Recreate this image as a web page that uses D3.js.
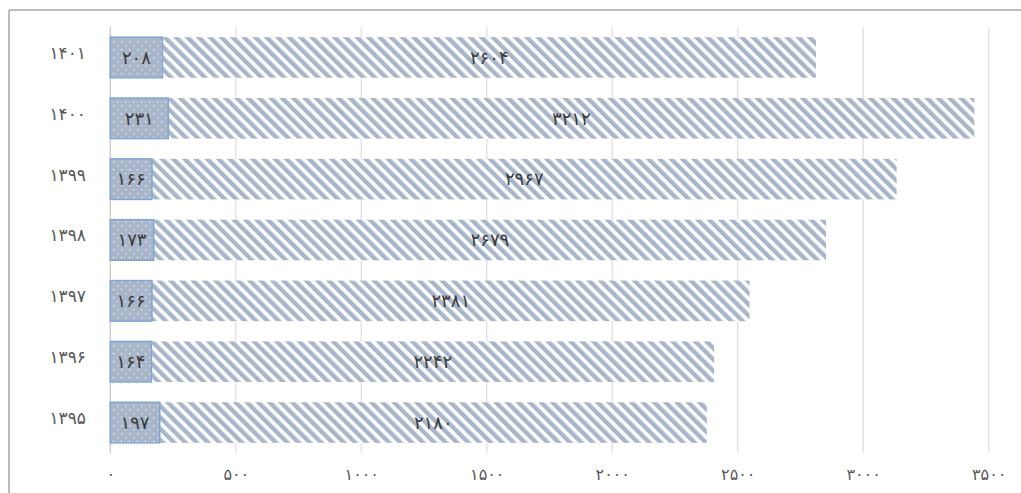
<!DOCTYPE html>
<html><head><meta charset="utf-8">
<script src="https://cdn.jsdelivr.net/npm/d3@7/dist/d3.min.js"></script>
<style>html,body{margin:0;padding:0;background:#fff;}svg{display:block;}</style>
</head><body>
<svg id="c" width="1021" height="493"></svg>
<script>
const categories = ['۱۴۰۱','۱۴۰۰','۱۳۹۹','۱۳۹۸','۱۳۹۷','۱۳۹۶','۱۳۹۵'];
const seriesA = [208, 231, 166, 173, 166, 164, 197];
const seriesB = [2604, 3212, 2967, 2679, 2381, 2242, 2180];
const tickValues = [0, 500, 1000, 1500, 2000, 2500, 3000, 3500];

const fa = n => String(n).replace(/\d/g, d => '۰۱۲۳۴۵۶۷۸۹'[d]);
const FONT = "'DejaVu Sans', 'Noto Sans', sans-serif";

const svg = d3.select('#c');
const defs = svg.append('defs');
const stripe = defs.append('pattern').attr('id','stripe').attr('patternUnits','userSpaceOnUse')
  .attr('width',8).attr('height',8).attr('patternTransform','rotate(-45)');
stripe.append('rect').attr('width',8).attr('height',8).attr('fill','#ffffff');
stripe.append('rect').attr('width',4.4).attr('height',8).attr('fill','#a8b6cc');
const dots = defs.append('pattern').attr('id','dots').attr('patternUnits','userSpaceOnUse')
  .attr('width',8).attr('height',8);
dots.append('rect').attr('width',8).attr('height',8).attr('fill','#a9b5c9');
dots.append('rect').attr('x',1).attr('y',1).attr('width',1.2).attr('height',1.2).attr('fill','#ffffff');
dots.append('rect').attr('x',5).attr('y',5).attr('width',1.2).attr('height',1.2).attr('fill','#eef1f6');

// frame
svg.append('line').attr('x1',9).attr('x2',1021).attr('y1',10).attr('y2',10).attr('stroke','#a6a6a6').attr('stroke-width',1.5);
svg.append('line').attr('x1',9).attr('x2',9).attr('y1',10).attr('y2',493).attr('stroke','#a6a6a6').attr('stroke-width',1.5);

const x = d3.scaleLinear().domain([0, 3500]).range([110.3, 988.7]);
const y = d3.scaleBand().domain(categories).range([27, 453]).paddingInner(0.333).paddingOuter(0.167);

// gridlines
svg.append('g').selectAll('line').data(tickValues).join('line')
  .attr('x1', d => x(d)).attr('x2', d => x(d)).attr('y1', 27).attr('y2', 453)
  .attr('stroke', d => d === 0 ? '#c8c8c8' : '#e0e0e0').attr('stroke-width', 1.3);

// x axis labels
const xAxis = d3.axisBottom(x).tickValues(tickValues).tickFormat(fa).tickSize(0).tickPadding(0);
const gx = svg.append('g').attr('transform','translate(0,469)').call(xAxis);
gx.select('.domain').remove();
gx.selectAll('text').attr('font-family', FONT).attr('font-size', 16).attr('fill', '#595959')
  .attr('letter-spacing', '1.5px').attr('dy','0.7em');

// y axis labels
const yAxis = d3.axisLeft(y).tickSize(0).tickPadding(0);
const gy = svg.append('g').attr('transform','translate(86,-4)').call(yAxis);
gy.select('.domain').remove();
gy.selectAll('text').attr('font-family', FONT).attr('font-size', 17).attr('fill', '#595959')
  .attr('letter-spacing', '2.5px');

const rows = categories.map((c, i) => ({c, a: seriesA[i], b: seriesB[i]}));

// series B (stripes)
svg.append('g').selectAll('rect').data(rows).join('rect')
  .attr('x', d => x(d.a)).attr('y', d => y(d.c))
  .attr('width', d => x(d.a + d.b) - x(d.a)).attr('height', y.bandwidth())
  .attr('fill', 'url(#stripe)');

// series A (dotted)
svg.append('g').selectAll('rect').data(rows).join('rect')
  .attr('x', d => x(0)).attr('y', d => y(d.c))
  .attr('width', d => x(d.a) - x(0)).attr('height', y.bandwidth())
  .attr('fill', 'url(#dots)').attr('stroke', '#80a6d6').attr('stroke-width', 1.5);

// labels
const lab = svg.append('g').attr('font-family', FONT).attr('font-size', 18).attr('fill', '#3a3a3a').attr('text-anchor','middle');
lab.selectAll('text.a').data(rows).join('text').attr('class','a')
  .attr('x', d => (x(0) + x(d.a)) / 2).attr('y', d => y(d.c) + y.bandwidth() / 2).attr('dy','0.35em')
  .text(d => fa(d.a));
lab.selectAll('text.b').data(rows).join('text').attr('class','b')
  .attr('x', d => (x(d.a) + x(d.a + d.b)) / 2).attr('y', d => y(d.c) + y.bandwidth() / 2).attr('dy','0.35em')
  .text(d => fa(d.b));
</script>
</body></html>
